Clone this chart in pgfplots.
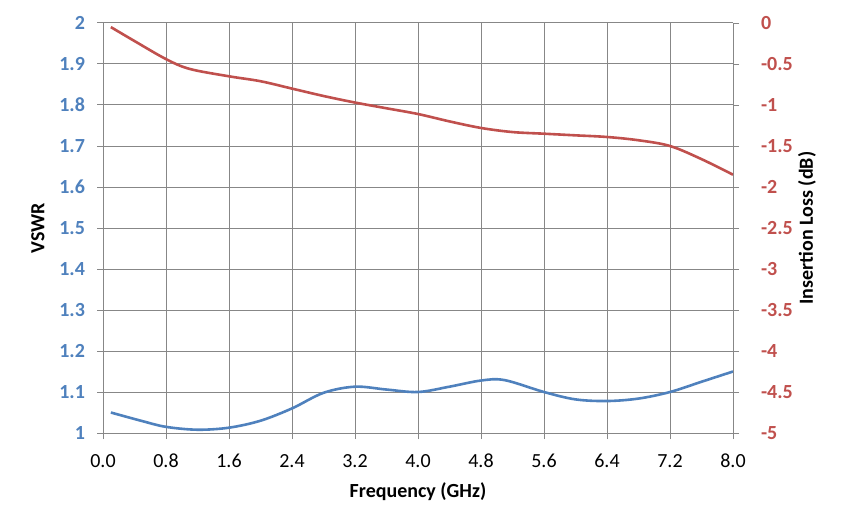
\documentclass[border=0pt]{standalone}
\usepackage{fontspec}
\setmainfont{Carlito}
\usepackage{pgfplots}
\pgfplotsset{compat=1.18}
\definecolor{xlblue}{HTML}{4F81BD}
\definecolor{xlred}{HTML}{C0504D}
\definecolor{xlgrid}{HTML}{878787}
\begin{document}
\begin{tikzpicture}
\pgfplotsset{
  every axis/.append style={
    scale only axis, width=315pt, height=205pt,
    xmin=0, xmax=8,
    tick align=outside, major tick length=3pt,
    tick style={xlgrid, line width=0.5pt},
    axis line style={xlgrid, line width=0.5pt},
    /pgf/number format/assume math mode=true,
    tick label style={font=\fontsize{10}{12}\selectfont},
  }
}
\begin{axis}[name=ax,
  axis y line*=left, axis x line*=bottom,
  ymin=1, ymax=2,
  ytick={1,1.1,1.2,1.3,1.4,1.5,1.6,1.7,1.8,1.9,2},
  yticklabels={1,1.1,1.2,1.3,1.4,1.5,1.6,1.7,1.8,1.9,2},
  xtick={0,0.8,1.6,2.4,3.2,4.0,4.8,5.6,6.4,7.2,8.0},
  xticklabels={0.0,0.8,1.6,2.4,3.2,4.0,4.8,5.6,6.4,7.2,8.0},
  grid=major, grid style={xlgrid, line width=0.5pt},
  yticklabel style={text=xlblue, font=\fontsize{10}{12}\selectfont\bfseries, xshift=-2.5pt},
  xticklabel style={text=black, yshift=-4pt},
  xlabel={Frequency (GHz)}, ylabel={VSWR},
  every axis x label/.style={at={(axis description cs:0.5,-0.1439)}, anchor=center, font=\fontsize{10}{12}\selectfont\bfseries},
  every axis y label/.style={at={(axis description cs:-0.1032,0.5)}, anchor=center, rotate=90, font=\fontsize{10}{12}\selectfont\bfseries},
]
\addplot[xlblue, line width=1.3pt, smooth, tension=0.55] coordinates {
(0.1,1.05) (0.5,1.029) (0.8,1.015) (1.2,1.008) (1.6,1.013) (2.0,1.03)
(2.4,1.06) (2.8,1.098) (3.2,1.113) (3.6,1.106) (4.0,1.10) (4.4,1.113)
(4.8,1.128) (5.1,1.129) (5.6,1.10) (6.0,1.082) (6.4,1.078) (6.8,1.084)
(7.2,1.10) (7.6,1.125) (8.0,1.15)
};
\end{axis}
\begin{axis}[
  axis y line*=right, axis x line=none,
  ymin=-5, ymax=0,
  ytick={-5,-4.5,-4,-3.5,-3,-2.5,-2,-1.5,-1,-0.5,0},
  yticklabels={-5,-4.5,-4,-3.5,-3,-2.5,-2,-1.5,-1,-0.5,0},
  yticklabel style={text=xlred, font=\fontsize{10}{12}\selectfont\bfseries, xshift=7.5pt},
  ylabel={Insertion Loss (dB)},
  every axis y label/.style={at={(axis description cs:1.1175,0.5)}, anchor=center, rotate=90, font=\fontsize{10}{12}\selectfont\bfseries},
]
\addplot[xlred, line width=1.3pt, smooth, tension=0.55] coordinates {
(0.1,-0.05) (0.4,-0.22) (0.8,-0.44) (1.1,-0.56) (1.6,-0.65) (2.0,-0.71)
(2.4,-0.80) (2.8,-0.89) (3.2,-0.97) (3.6,-1.04) (4.0,-1.11) (4.4,-1.20)
(4.8,-1.28) (5.2,-1.33) (5.6,-1.35) (6.0,-1.37) (6.4,-1.39) (6.8,-1.43)
(7.2,-1.50) (7.6,-1.66) (8.0,-1.85)
};
\end{axis}
\pgfresetboundingbox
\path ([shift={(-51.5pt,-48pt)}]ax.south west) rectangle ([shift={(55.5pt,11.5pt)}]ax.north east);
\end{tikzpicture}
\end{document}
